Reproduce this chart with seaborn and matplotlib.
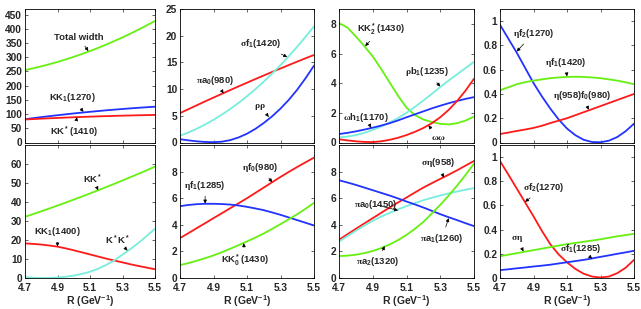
import matplotlib
matplotlib.use("Agg")
import matplotlib.pyplot as plt
from matplotlib.ticker import FuncFormatter
import seaborn as sns

R = [4.70, 4.75, 4.80, 4.85, 4.90, 4.95, 5.00, 5.05, 5.10,
     5.15, 5.20, 5.25, 5.30, 5.35, 5.40, 5.45, 5.50]

# top row, panel 1
total_width = [255, 261.2, 268.1, 275.6, 283.6, 292.3, 301.6, 311.5, 322,
               333.1, 344.8, 357.2, 370.1, 383.7, 397.8, 412.6, 428]
kk1_1270 = [82, 85.7, 89.3, 92.7, 96, 99.2, 102.3, 105.2, 108,
            110.7, 113.3, 115.7, 118, 120.2, 122.3, 124.2, 126]
kkstar_1410 = [81, 82.5, 83.9, 85.2, 86.5, 87.7, 88.9, 90.0, 91,
               92.0, 92.9, 93.7, 94.5, 95.2, 95.9, 96.5, 97]

# top row, panel 2
pia0_980 = [5.5, 6.24, 6.97, 7.70, 8.41, 9.12, 9.82, 10.52, 11.2,
            11.88, 12.55, 13.21, 13.86, 14.51, 15.15, 15.78, 16.4]
sigmaf1_1420 = [1.26, 1.87, 2.58, 3.37, 4.25, 5.22, 6.28, 7.42, 8.66,
                9.99, 11.40, 12.90, 14.50, 16.18, 17.95, 19.81, 21.76]
rhorho = [0.62, 0.4, 0.22, 0.1, 0.06, 0.15, 0.45, 0.95, 1.65,
          2.55, 3.65, 4.9, 6.35, 8.0, 9.9, 12.05, 14.4]

# top row, panel 3
kk2star_1430 = [8.05, 7.75, 7.15, 6.5, 5.8, 4.95, 4.05, 3.15, 2.35,
                1.85, 1.55, 1.38, 1.26, 1.22, 1.3, 1.48, 1.75]
rhob1_1235 = [0.34, 0.4, 0.5, 0.65, 0.85, 1.08, 1.35, 1.65, 2.0,
              2.4, 2.83, 3.28, 3.74, 4.18, 4.6, 5.02, 5.44]
omegah1_1170 = [0.57, 0.65, 0.75, 0.87, 1.0, 1.14, 1.3, 1.49, 1.7,
                1.9, 2.1, 2.3, 2.48, 2.65, 2.8, 2.94, 3.06]
omegaomega = [0.22, 0.14, 0.08, 0.04, 0.03, 0.08, 0.18, 0.32, 0.5,
              0.72, 0.98, 1.3, 1.7, 2.2, 2.8, 3.5, 4.3]

# top row, panel 4
etaf2_1270 = [0.97, 0.855, 0.74, 0.615, 0.49, 0.38, 0.28, 0.19, 0.115,
              0.06, 0.022, 0.004, 0.002, 0.015, 0.045, 0.093, 0.155]
etaf1_1420 = [0.43, 0.455, 0.48, 0.497, 0.51, 0.52, 0.53, 0.536, 0.54,
              0.542, 0.54, 0.536, 0.53, 0.52, 0.51, 0.496, 0.48]
eta958f0_980 = [0.07, 0.082, 0.095, 0.107, 0.12, 0.138, 0.16, 0.18, 0.20,
                0.225, 0.25, 0.275, 0.30, 0.325, 0.35, 0.375, 0.40]

# bottom row, panel 5
kkstar = [32.2, 33.64, 35.11, 36.60, 38.13, 39.68, 41.26, 42.86, 44.5,
          46.16, 47.86, 49.58, 51.33, 53.10, 54.91, 56.74, 58.6]
kk1_1400 = [18.2, 17.95, 17.6, 17.1, 16.5, 15.6, 14.6, 13.5, 12.4,
            11.3, 10.2, 9.2, 8.2, 7.2, 6.3, 5.45, 4.6]
kstarkstar = [0.5, 0.15, 0.02, 0.05, 0.25, 0.65, 1.3, 2.15, 3.3,
              4.9, 6.9, 9.3, 12.3, 15.3, 18.6, 22.2, 26.0]

# bottom row, panel 6
etaf0_980 = [3.0, 3.37, 3.75, 4.12, 4.5, 4.87, 5.25, 5.62, 6.0,
             6.4, 6.8, 7.2, 7.6, 7.98, 8.35, 8.7, 9.05]
etaf1_1285 = [5.4, 5.49, 5.55, 5.58, 5.58, 5.56, 5.52, 5.45, 5.35,
              5.23, 5.1, 4.93, 4.75, 4.55, 4.35, 4.15, 3.95]
kk0star_1430 = [0.97, 1.12, 1.3, 1.49, 1.7, 1.94, 2.2, 2.47, 2.75,
                3.04, 3.35, 3.69, 4.05, 4.42, 4.8, 5.21, 5.65]

# bottom row, panel 7
sigmaeta958 = [2.87, 3.29, 3.7, 4.1, 4.5, 4.9, 5.3, 5.68, 6.05,
               6.43, 6.8, 7.13, 7.45, 7.77, 8.1, 8.45, 8.8]
pia0_1450 = [2.74, 3.15, 3.55, 3.94, 4.3, 4.62, 4.9, 5.16, 5.4,
             5.63, 5.85, 6.03, 6.2, 6.36, 6.5, 6.64, 6.76]
pia1_1260 = [7.35, 7.18, 7.0, 6.8, 6.6, 6.4, 6.2, 5.98, 5.75,
             5.53, 5.3, 5.05, 4.8, 4.57, 4.35, 4.12, 3.9]
pia2_1320 = [1.65, 1.68, 1.75, 1.87, 2.03, 2.25, 2.52, 2.85, 3.24,
             3.7, 4.22, 4.85, 5.5, 6.2, 6.95, 7.75, 8.6]

# bottom row, panel 8
sigmaf2_1270 = [0.967, 0.855, 0.74, 0.625, 0.51, 0.39, 0.28, 0.195, 0.13,
                0.075, 0.035, 0.012, 0.004, 0.012, 0.04, 0.085, 0.15]
sigmaeta = [0.18, 0.193, 0.205, 0.218, 0.23, 0.243, 0.255, 0.268, 0.28,
            0.29, 0.30, 0.31, 0.32, 0.333, 0.345, 0.355, 0.365]
sigmaf1_1285 = [0.065, 0.072, 0.08, 0.087, 0.095, 0.102, 0.11, 0.12, 0.13,
                0.14, 0.15, 0.162, 0.175, 0.187, 0.20, 0.212, 0.225]

GREEN = "#66f011"
CYAN = "#77eedd"
BLUE = "#2233ff"
RED = "#ff1a1a"

sns.set_style("ticks")
plt.rcParams["font.family"] = ["Liberation Sans", "DejaVu Sans"]
plt.rcParams["font.weight"] = "bold"
plt.rcParams["mathtext.fontset"] = "custom"
plt.rcParams["mathtext.rm"] = "Liberation Sans:bold"
plt.rcParams["mathtext.it"] = "Liberation Sans:bold"
plt.rcParams["mathtext.bf"] = "Liberation Sans:bold"
plt.rcParams["mathtext.sf"] = "Liberation Serif"
plt.rcParams["mathtext.default"] = "rm"

# (series, ylim, yticks, annotations: label, text pos, arrow tip)
panels = [
    ([(total_width, GREEN), (kk1_1270, BLUE), (kkstar_1410, RED)],
     470, range(0, 451, 50),
     [("Total width", (5.03, 371), (5.09, 322)),
      (r"$KK_1(1270)$", (4.99, 157), (5.06, 108)),
      (r"$KK^*(1410)$", (5.0, 37), (5.02, 89))]),
    ([(pia0_980, RED), (sigmaf1_1420, CYAN), (rhorho, BLUE)],
     25, range(0, 26, 5),
     [(r"$\mathsf{\sigma}f_1(1420)$", (5.18, 18.5), (5.34, 16.0)),
      (r"$\mathsf{\pi}a_0(980)$", (4.91, 11.6), (4.96, 9.2)),
      (r"$\mathsf{\rho\rho}$", (5.18, 6.7), (5.23, 4.8))]),
    ([(kk2star_1430, GREEN), (rhob1_1235, CYAN), (omegah1_1170, BLUE), (omegaomega, RED)],
     9, range(0, 9, 2),
     [(r"$KK_2^*(1430)$", (4.95, 7.64), (4.855, 6.5)),
      (r"$\mathsf{\rho}b_1(1235)$", (5.22, 4.76), (5.30, 3.78)),
      (r"$\mathsf{\omega}h_1(1170)$", (4.86, 1.66), (4.89, 1.0)),
      (r"$\mathsf{\omega\omega}$", (5.29, 0.34), (5.23, 1.15))]),
    ([(etaf2_1270, BLUE), (etaf1_1420, GREEN), (eta958f0_980, RED)],
     1.1, [0, 0.2, 0.4, 0.6, 0.8, 1.0],
     [(r"$\mathsf{\eta}f_2(1270)$", (4.90, 0.90), (4.80, 0.75)),
      (r"$\mathsf{\eta}f_1(1420)$", (5.09, 0.66), (5.10, 0.545)),
      (r"$\mathsf{\eta}(958)f_0(980)$", (5.19, 0.387), (5.23, 0.27))]),
    ([(kkstar, GREEN), (kk1_1400, RED), (kstarkstar, CYAN)],
     70, range(0, 61, 10),
     [(r"$KK^*$", (5.12, 52), (5.15, 46.2)),
      (r"$KK_1(1400)$", (4.9, 24.6), (4.9, 16.6)),
      (r"$K^*K^*$", (5.27, 20), (5.33, 14.5))]),
    ([(etaf0_980, RED), (etaf1_1285, BLUE), (kk0star_1430, GREEN)],
     10, range(0, 9, 2),
     [(r"$\mathsf{\eta}f_0(980)$", (5.18, 8.33), (5.25, 7.2)),
      (r"$\mathsf{\eta}f_1(1285)$", (4.85, 6.99), (4.85, 5.6)),
      (r"$KK_0^*(1430)$", (5.09, 1.35), (5.08, 2.62))]),
    ([(sigmaeta958, RED), (pia0_1450, CYAN), (pia1_1260, BLUE), (pia2_1320, GREEN)],
     10, range(0, 9, 2),
     [(r"$\mathsf{\sigma\eta}(958)$", (5.29, 8.66), (5.32, 7.55)),
      (r"$\mathsf{\pi}a_0(1450)$", (4.92, 5.5), (5.05, 5.08)),
      (r"$\mathsf{\pi}a_1(1260)$", (5.31, 3.0), (5.35, 4.5)),
      (r"$\mathsf{\pi}a_2(1320)$", (4.93, 1.22), (4.97, 2.4))]),
    ([(sigmaf2_1270, RED), (sigmaeta, GREEN), (sigmaf1_1285, BLUE)],
     1.1, [0, 0.2, 0.4, 0.6, 0.8, 1.0],
     [(r"$\mathsf{\sigma}f_2(1270)$", (4.96, 0.75), (4.85, 0.63)),
      (r"$\mathsf{\sigma\eta}$", (4.80, 0.33), (4.84, 0.22)),
      (r"$\mathsf{\sigma}f_1(1285)$", (5.18, 0.245), (5.25, 0.16))]),
]

W, H = 641, 309
col_px = [(25, 155), (180, 314), (339, 474), (500, 634)]
row_px = [(9, 142.5), (145, 278)]

fig = plt.figure(figsize=(W / 100, H / 100), dpi=100)

for k, (series, ytop, yticks, notes) in enumerate(panels):
    r, c = divmod(k, 4)
    x0, x1 = col_px[c]
    y0, y1 = row_px[r]
    ax = fig.add_axes([x0 / W, (H - y1) / H, (x1 - x0) / W, (y1 - y0) / H])

    for vals, color in series:
        sns.lineplot(x=R, y=vals, color=color, lw=1.3, ax=ax)

    ax.set_xlim(4.7, 5.5)
    ax.set_ylim(0, ytop)
    ax.set_xticks([4.7, 4.9, 5.1, 5.3, 5.5])
    ax.set_yticks(list(yticks))
    ax.yaxis.set_major_formatter(FuncFormatter(lambda v, p: "%g" % v))
    ax.tick_params(direction="in", top=True, right=True, length=2, width=0.5,
                   labelsize=7.3)
    ax.tick_params(axis="y", pad=2)
    ax.tick_params(axis="x", pad=3.5)
    for s in ax.spines.values():
        s.set_linewidth(0.6)
        s.set_color("black")

    if r == 0:
        ax.set_xticklabels([])
    else:
        ax.set_xticklabels(["4.7", "4.9", "5.1", "5.3", "5.5"])
        ax.set_xlabel(r"$R\ (GeV^{-1})$", fontsize=7.5, labelpad=0.5)

    for label, txt, tip in notes:
        ax.annotate(label, xy=tip, xytext=txt, ha="center", va="center",
                    fontsize=6.8, fontweight="bold",
                    arrowprops=dict(arrowstyle="-|>", lw=0.5, color="black",
                                    mutation_scale=5, shrinkA=1, shrinkB=0))

fig.savefig("out.png", dpi=100)
